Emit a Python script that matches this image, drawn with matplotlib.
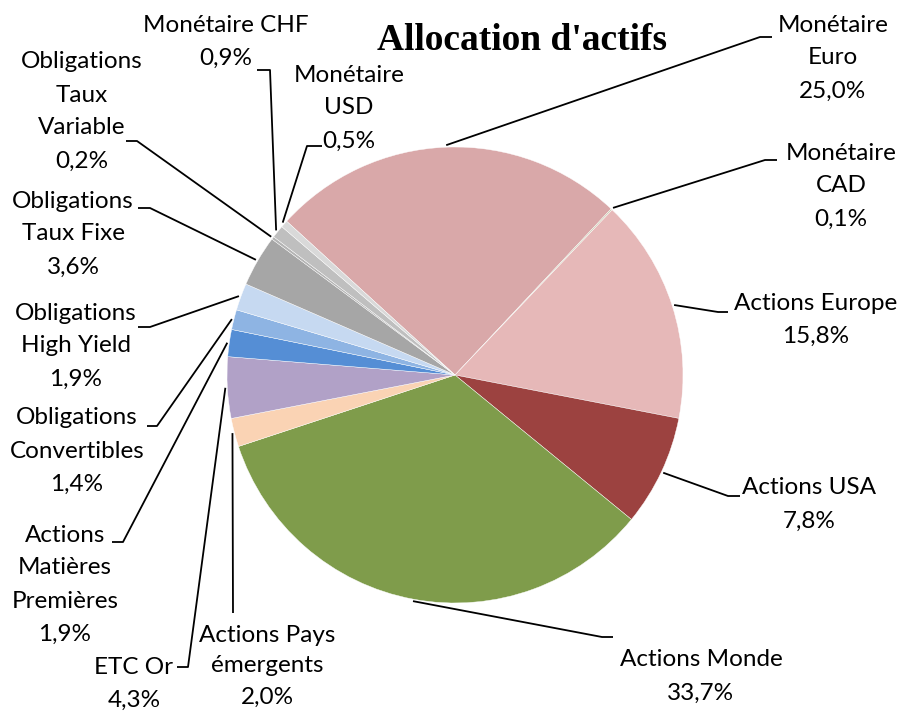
import numpy as np
import matplotlib
matplotlib.use("Agg")
import matplotlib.pyplot as plt

# data, clockwise from the top-left edge of "Monétaire Euro"
noms = ["Monétaire\nEuro", "Monétaire\nCAD", "Actions Europe", "Actions USA",
        "Actions Monde", "Actions Pays\némergents", "ETC Or",
        "Actions\nMatières\nPremières", "Obligations\nConvertibles",
        "Obligations\nHigh Yield", "Obligations\nTaux Fixe",
        "Obligations\nTaux\nVariable", "Monétaire CHF", "Monétaire\nUSD"]
parts = [25.0, 0.1, 15.8, 7.8, 33.7, 2.0, 4.3, 1.9, 1.4, 1.9, 3.6, 0.2, 0.9, 0.5]
couleurs = ["#D9A8A9", "#C9CBB0", "#E6B8B8", "#9C4240", "#7F9C4B", "#FAD3B4",
            "#B1A1C7", "#558ED5", "#8EB4E3", "#C6D9F1", "#A6A6A6", "#B4B4B4",
            "#BFBFBF", "#D9D9D9"]

H = 711.0
cx, cy, R = 455, 375, 228

# label layout in image pixels: text centre x, first line y, leader elbow (x0, x1, y)
pos_txt = [(833, 25), (841, 153), (816, 303), (809, 488), (701, 660), (267, 635),
           (134, 667), (65, 535), (77, 418), (76, 313), (73, 201), (82, 62),
           (226, 25), (349, 75)]
coudes = [(772, 760, 37), (777, 765, 160), (728, 718, 312), (740, 728, 496),
          (613, 602, 637), (233, 233, 613), (177, 188, 667), (112, 123, 542),
          (147, 157, 426), (138, 150, 327), (138, 150, 208), (126, 137, 141),
          (257, 270, 70), (322, 307, 146)]

fig = plt.figure(figsize=(9.02, 7.11), dpi=100)
ax = fig.add_axes([0, 0, 1, 1])

wedges, _ = ax.pie(parts, colors=couleurs, startangle=137.6, counterclock=False,
                   center=(cx, H - cy), radius=R,
                   wedgeprops=dict(edgecolor="white", linewidth=0.3))
ax.set_xlim(0, 902)
ax.set_ylim(0, H)
ax.set_aspect("equal")
ax.axis("off")

for i, w in enumerate(wedges):
    a = np.deg2rad((w.theta1 + w.theta2) / 2)
    px = cx + (R + 2) * np.cos(a)
    py = H - cy + (R + 2) * np.sin(a)
    x0, x1, yy = coudes[i]
    ax.plot([x0, x1, px], [H - yy, H - yy, py], color="black", lw=1.3,
            solid_capstyle="butt")

    lignes = noms[i].split("\n") + ["{:.1f}%".format(parts[i]).replace(".", ",")]
    tx, ty = pos_txt[i]
    step = 31 if i == 5 else 33
    for k, l in enumerate(lignes):
        ax.text(tx, H - (ty + step * k), l, ha="center", va="center",
                fontsize=17.5, family="Lato", color="black")

ax.text(522, H - 40, "Allocation d'actifs", ha="center", va="center",
        fontsize=27, family="Liberation Serif", fontweight="bold")

fig.savefig("out.png", dpi=100)
